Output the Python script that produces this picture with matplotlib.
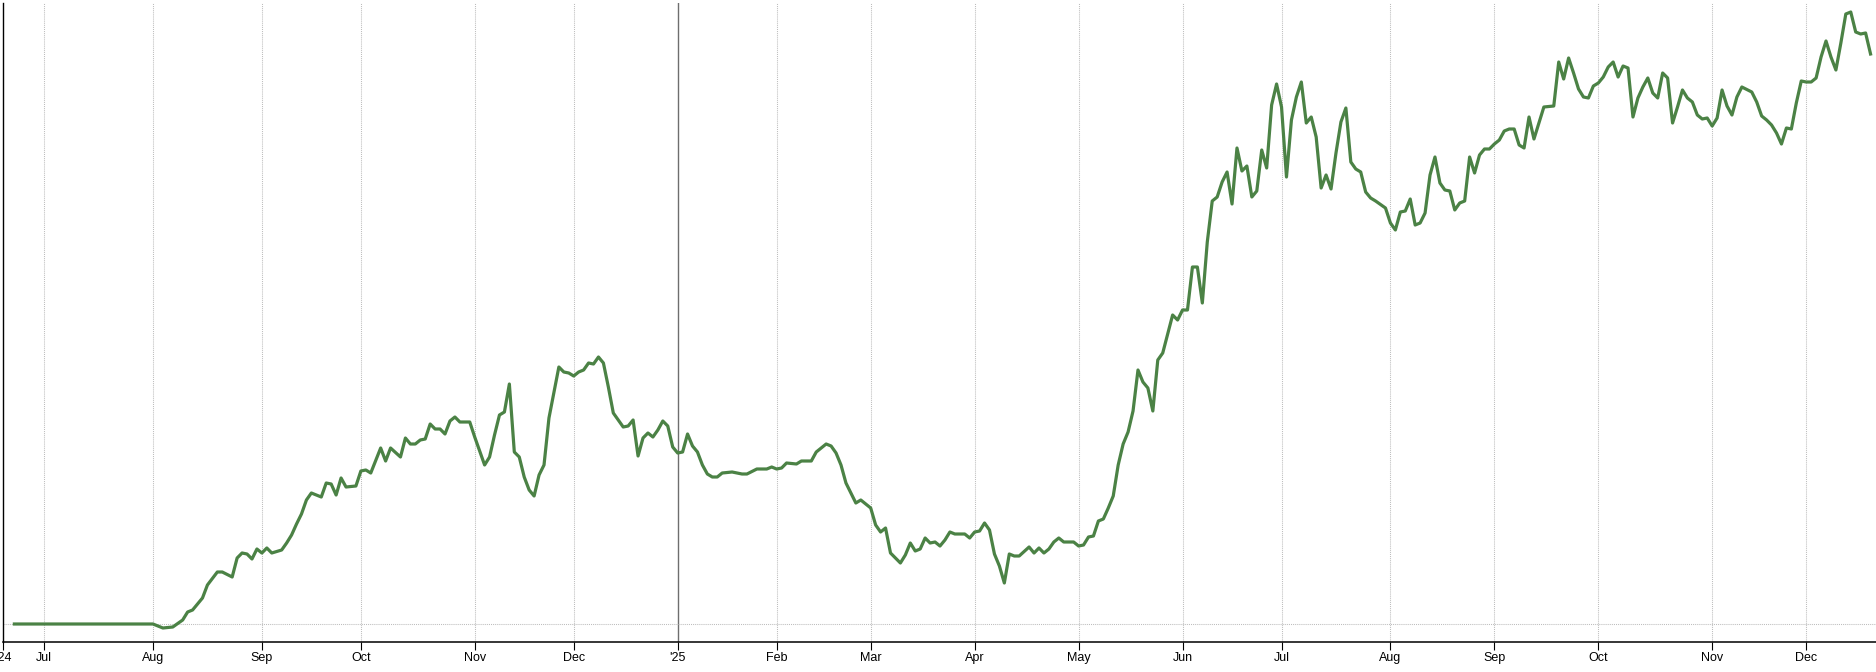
# -*- coding: utf-8 -*-
"""
Cumulative performance line, drawn on a trading-day axis (weekends and
US market holidays skipped), from late June 2024 to mid December 2025.
"""
import matplotlib
matplotlib.use("Agg")
import matplotlib.pyplot as plt

# Session number counted from 1 Jul 2024 (= 0); one unit per trading day
sessions = [
    -6, 22, 24, 26, 28, 29, 30, 32, 33, 35, 36, 38, 39, 40, 41, 42, 43, 44, 45, 46,
    48, 49, 50, 51, 52, 53, 54, 56, 57, 58, 59, 60, 61, 63, 64, 65, 66, 68, 69, 70,
    72, 73, 74, 75, 76, 77, 78, 79, 80, 81, 82, 83, 84, 86, 87, 89, 90, 91, 92, 93,
    94, 95, 96, 97, 98, 99, 100, 101, 102, 104, 105, 106, 107, 108, 109, 110, 111, 112, 113, 114,
    115, 117, 118, 119, 120, 121, 122, 123, 124, 125, 126, 127, 128, 129, 130, 131, 132, 133, 134, 135,
    136, 137, 139, 141, 142, 144, 146, 147, 148, 149, 150, 152, 153, 155, 156, 158, 159, 160, 161, 162,
    163, 164, 165, 166, 167, 168, 169, 170, 171, 173, 174, 175, 176, 177, 178, 179, 180, 181, 182, 183,
    184, 186, 187, 188, 189, 190, 191, 192, 193, 194, 195, 196, 197, 199, 200, 201, 202, 203, 204, 205,
    206, 208, 209, 210, 211, 212, 213, 214, 215, 216, 217, 218, 219, 220, 221, 222, 223, 224, 225, 226,
    227, 228, 229, 230, 231, 232, 233, 234, 235, 236, 237, 238, 239, 240, 241, 242, 243, 244, 245, 246,
    247, 248, 249, 250, 251, 252, 253, 254, 255, 256, 257, 258, 259, 260, 261, 262, 263, 264, 265, 266,
    267, 268, 269, 271, 272, 273, 274, 275, 276, 277, 278, 279, 280, 281, 282, 283, 284, 285, 286, 287,
    288, 289, 290, 291, 292, 293, 294, 295, 296, 297, 298, 299, 300, 301, 302, 303, 305, 306, 307, 308,
    309, 310, 311, 312, 313, 314, 315, 316, 317, 318, 319, 320, 321, 322, 323, 324, 325, 326, 327, 328,
    329, 330, 331, 332, 333, 334, 335, 336, 337, 338, 339, 340, 341, 342, 343, 345, 346, 347, 348, 349,
    350, 351, 352, 353, 354, 355, 356, 357, 358, 359, 360, 361, 362, 363, 364, 365, 366, 367, 368, 369,
]

# Cumulative change (chart units, 0 = start level)
change = [
    0, 0, -4, -3, 4, 12, 14, 26, 39, 52, 52, 47, 66, 71, 70, 65, 75, 71, 76, 71,
    74, 81, 89, 100, 110, 124, 131, 127, 141, 140, 129, 146, 137, 138, 153, 154, 151, 176, 163, 176,
    167, 186, 180, 180, 184, 185, 200, 195, 195, 190, 203, 207, 202, 202, 187, 159, 167, 189, 209, 212,
    240, 172, 167, 147, 134, 128, 149, 159, 206, 257, 252, 251, 248, 252, 254, 261, 260, 267, 261, 237,
    211, 197, 198, 204, 168, 186, 191, 187, 194, 203, 198, 177, 171, 172, 190, 178, 172, 159, 150, 147,
    147, 151, 152, 150, 150, 155, 155, 157, 155, 156, 161, 160, 163, 163, 172, 180, 178, 171, 159, 141,
    131, 121, 124, 120, 116, 99, 92, 96, 71, 61, 69, 81, 73, 75, 86, 81, 82, 78, 84, 92,
    90, 90, 86, 92, 93, 101, 94, 70, 58, 41, 70, 68, 68, 77, 71, 76, 71, 75, 82, 86,
    82, 82, 78, 79, 87, 88, 103, 105, 116, 128, 159, 180, 192, 213, 254, 242, 236, 213, 264, 271,
    290, 309, 304, 314, 314, 357, 357, 321, 382, 423, 427, 442, 452, 420, 476, 453, 458, 427, 433, 474,
    456, 519, 540, 517, 447, 504, 527, 542, 501, 507, 487, 436, 449, 435, 471, 502, 516, 462, 455, 452,
    432, 426, 423, 416, 401, 394, 412, 413, 425, 399, 401, 411, 449, 467, 441, 434, 433, 414, 421, 423,
    467, 451, 469, 475, 475, 480, 484, 493, 495, 495, 479, 476, 507, 485, 501, 517, 518, 562, 545, 566,
    551, 535, 527, 526, 538, 541, 547, 557, 562, 547, 558, 556, 507, 526, 537, 546, 531, 526, 551, 546,
    501, 517, 534, 526, 522, 509, 505, 506, 498, 506, 534, 518, 509, 527, 537, 532, 522, 508, 504, 499,
    491, 480, 496, 495, 521, 543, 542, 542, 546, 567, 583, 567, 554, 581, 610, 612, 592, 590, 591, 570,
]

# First session of each month, and the axis labels
month_sessions = [0, 22, 44, 64, 87, 107, 128, 148, 167, 188, 209, 230, 250, 272, 293, 314, 337, 356]
month_labels = ["Jul", "Aug", "Sep", "Oct", "Nov", "Dec", "'25", "Feb", "Mar", "Apr",
                "May", "Jun", "Jul", "Aug", "Sep", "Oct", "Nov", "Dec"]
year_break = "'25"

X_MIN, X_MAX = -8.3, 370.1
Y_MIN, Y_MAX = -18, 621

LINE_COLOR = "#4b8245"
GRID_COLOR = "#bdbdbd"
YEAR_COLOR = "#6e6e6e"
DOTS = (0, (1, 1))


def main():
    plt.rcParams["font.family"] = ["Liberation Sans", "DejaVu Sans"]

    fig = plt.figure(figsize=(18.76, 6.72), dpi=100)
    ax = fig.add_axes([3 / 1876, 30 / 672, 1873 / 1876, 639 / 672])

    # month grid: dotted, with a solid darker line at the year change
    for pos, lab in zip(month_sessions, month_labels):
        if lab == year_break:
            ax.axvline(pos, color=YEAR_COLOR, linewidth=1.0, zorder=1)
        else:
            ax.axvline(pos, color=GRID_COLOR, linewidth=0.75, linestyle=DOTS, zorder=1)
    ax.axhline(0, color=GRID_COLOR, linewidth=0.75, linestyle=DOTS, zorder=1)

    ax.plot(sessions, change, color=LINE_COLOR, linewidth=2.3, solid_joinstyle="round", zorder=3)

    ax.set_xlim(X_MIN, X_MAX)
    ax.set_ylim(Y_MIN, Y_MAX)

    # leftmost tick carries the starting year, cut by the figure edge
    ax.set_xticks([X_MIN] + month_sessions)
    ax.set_xticklabels(["'24"] + month_labels)
    ax.set_yticks([])
    ax.tick_params(axis="x", length=6, width=0.8, pad=1.5, labelsize=9, colors="black")
    ticks = ax.xaxis.get_major_ticks()
    for tick, lab in zip(ticks[1:], month_labels):
        tick.tick1line.set_color(YEAR_COLOR if lab == year_break else GRID_COLOR)

    for side in ("top", "right"):
        ax.spines[side].set_visible(False)
    ax.spines["left"].set_linewidth(1.0)
    ax.spines["bottom"].set_linewidth(1.1)
    ax.spines["left"].set_color("black")
    ax.spines["bottom"].set_color("black")

    fig.savefig("out.png", dpi=100, facecolor="white")
    plt.close(fig)


if __name__ == "__main__":
    main()
